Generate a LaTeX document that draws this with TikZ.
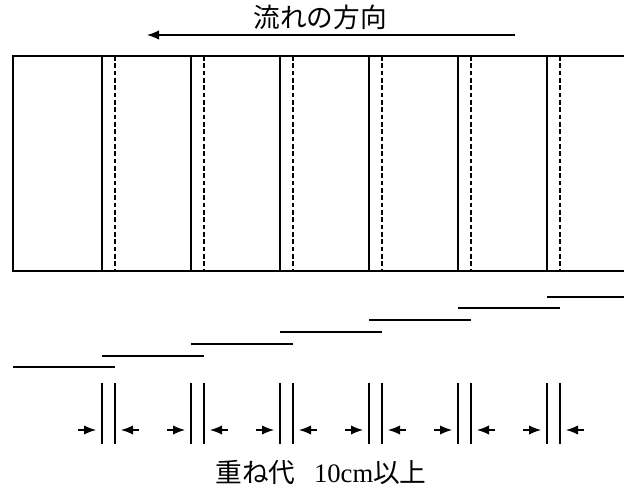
\documentclass[tikz,border=0pt]{standalone}
\usepackage{fontspec}
\setmainfont{Liberation Serif}
\newfontfamily\jpfont{Noto Sans CJK JP}
\usetikzlibrary{arrows.meta}

\tikzset{every picture/.style={line width=0.9pt}}
\tikzset{tip/.style={-{Latex[length=9pt,width=7pt]}},
	seam/.style={dash pattern=on 3.5pt off 2pt},
	label/.style={font=\fontsize{20}{24}\selectfont}}

\begin{document}
\begin{tikzpicture}[x=0.75pt,y=0.75pt,yscale=-1,xscale=1]
	\useasboundingbox (0,0) rectangle (624,488);

	% Text Node
	\node [label] (flowlabel) at (320,17) {\jpfont 流れの方向};
	%Straight Lines [flow arrow]
	\coordinate (flowstart) at (515,35);
	\coordinate (flowend) at (147,35);
	\draw [tip] (flowstart) -- (flowend);

	%Shape: Rectangle, open on the right
	\draw (624,56) -- (13,56) -- (13,271) -- (624,271);
	%Straight Lines [sheet edges and overlap seams]
	\foreach \k in {0,...,5}{
		\coordinate (edgetop\k) at (102+89*\k,56);
		\coordinate (edgebot\k) at (102+89*\k,271);
		\draw (edgetop\k) -- (edgebot\k);
		\draw [seam] ([xshift=13*0.75pt]edgetop\k) -- ([xshift=13*0.75pt]edgebot\k);
	}

	%Straight Lines [sheets in section]
	\coordinate (sheetA) at (13,367);
	\coordinate (sheetB) at (115,367);
	\draw (sheetA) -- (sheetB);
	\foreach \k in {0,...,4}{
		\coordinate (sheetL\k) at (102+89*\k,356-12*\k);
		\coordinate (sheetR\k) at (204+89*\k,356-12*\k);
		\draw (sheetL\k) -- (sheetR\k);
	}
	\coordinate (sheetC) at (547,297);
	\coordinate (sheetD) at (624,297);
	\draw (sheetC) -- (sheetD);

	%Straight Lines [overlap width marks]
	\foreach \k in {0,...,5}{
		\coordinate (marka\k) at (102+89*\k,383);
		\coordinate (markb\k) at (115+89*\k,383);
		\draw (marka\k) -- ++(0,61);
		\draw (markb\k) -- ++(0,61);
		\draw [tip] (78+89*\k,430) -- (96+89*\k,430);
		\draw [tip] (139+89*\k,430) -- (121+89*\k,430);
	}

	% Text Node
	\node [label] (lapnote) at (321,472) {{\jpfont 重ね代}\hspace{14pt}10cm{\jpfont 以上}};

\end{tikzpicture}
\end{document}
